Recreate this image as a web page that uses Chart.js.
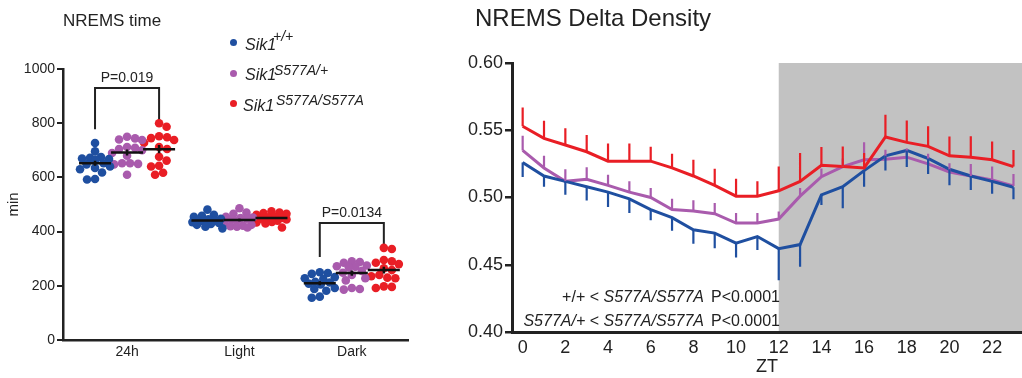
<!DOCTYPE html>
<html>
<head>
<meta charset="utf-8">
<title>NREMS time and delta density</title>
<script src="https://cdn.jsdelivr.net/npm/chart.js"></script>
<style>
  body { margin: 0; background: #fff; }
  #page { position: relative; width: 1022px; height: 378px; overflow: hidden;
          font-family: 'Liberation Sans', Arial, sans-serif; color: #222; }
  .box { position: absolute; top: 0; height: 378px; }
  .txt { position: absolute; white-space: nowrap; line-height: 1; }
  .dot { position: absolute; width: 7px; height: 7px; border-radius: 50%; }
</style>
</head>
<body>
<div id="page">
  <div class="box" style="left:0;width:420px"><canvas id="timeChart"></canvas></div>
  <div class="box" style="left:420px;width:602px"><canvas id="deltaChart"></canvas></div>

  <div class="txt" style="left:63px;top:12px;font-size:17px">NREMS time</div>
  <div class="txt" style="left:475px;top:6px;font-size:24px">NREMS Delta Density</div>

  <!-- legend -->
  <div class="dot" style="left:229.5px;top:38.5px;background:#1f4fa0"></div>
  <div class="txt" style="left:245px;top:37px;font-size:16px;font-style:italic">Sik1</div>
  <div class="txt" style="left:273px;top:29px;font-size:14px;font-style:italic">+/+</div>
  <div class="dot" style="left:229.5px;top:69.5px;background:#a95bad"></div>
  <div class="txt" style="left:245px;top:67px;font-size:16px;font-style:italic">Sik1</div>
  <div class="txt" style="left:274px;top:63px;font-size:14px;font-style:italic">S577A/+</div>
  <div class="dot" style="left:229.5px;top:99.5px;background:#e91e25"></div>
  <div class="txt" style="left:243px;top:98px;font-size:16px;font-style:italic">Sik1</div>
  <div class="txt" style="left:276px;top:93px;font-size:14px;font-style:italic">S577A/S577A</div>

  <!-- statistics on the delta panel -->
  <div class="txt" style="right:318px;top:289px;font-size:16px">+/+ &lt; <i>S577A/S577A</i></div>
  <div class="txt" style="left:711px;top:289px;font-size:16px">P&lt;0.0001</div>
  <div class="txt" style="right:318px;top:313px;font-size:16px"><i>S577A/+</i> &lt; <i>S577A/S577A</i></div>
  <div class="txt" style="left:711px;top:313px;font-size:16px">P&lt;0.0001</div>
</div>

<script>
  // ---- NREMS time (min), one value per mouse ----
  const categories = ['24h', 'Light', 'Dark'];
  const wt24h   = [727, 696, 672, 668, 675, 670, 665, 652, 648, 640, 635, 630, 618, 594, 592];
  const het24h  = [750, 744, 740, 738, 712, 709, 705, 700, 690, 680, 652, 650, 648, 652, 610];
  const hom24h  = [800, 787, 748, 745, 752, 738, 728, 712, 705, 676, 662, 643, 640, 617, 610];
  const wtLight  = [481, 462, 458, 455, 447, 445, 443, 440, 438, 435, 432, 428, 425, 418, 412];
  const hetLight = [486, 470, 466, 455, 452, 450, 448, 445, 440, 432, 425, 422, 420, 418, 415];
  const homLight = [475, 470, 468, 466, 462, 455, 452, 450, 448, 445, 440, 436, 434, 430, 415];
  const wtDark  = [250, 247, 244, 232, 228, 225, 215, 212, 208, 205, 192, 188, 182, 160, 156];
  const hetDark = [290, 288, 285, 275, 272, 270, 268, 255, 248, 240, 228, 220, 192, 188, 186];
  const homDark = [340, 336, 295, 290, 285, 280, 265, 258, 240, 235, 230, 228, 198, 196, 192];
  const timeTicks = [0, 200, 400, 600, 800, 1000];
  // bracket: left foot, top, right foot (min)
  const bracket24h  = [778, 930, 808];
  const bracketDark = [306, 432, 351];
  const pLabels = ['P=0.019', 'P=0.0134'];

  // ---- NREMS delta density per hour ----
  const ztHours = [0, 1, 2, 3, 4, 5, 6, 7, 8, 9, 10, 11, 12, 13, 14, 15, 16, 17, 18, 19, 20, 21, 22, 23];
  const wtDelta  = [0.526, 0.516, 0.512, 0.508, 0.504, 0.499, 0.491, 0.485, 0.476, 0.4735, 0.466, 0.471,
                    0.462, 0.465, 0.502, 0.508, 0.520, 0.531, 0.535, 0.529, 0.521, 0.516, 0.512, 0.5076];
  const wtErr    = [0.0107, 0.008, 0.0099, 0.0103, 0.0111, 0.0105, 0.008, 0.0098, 0.0104, 0.0112, 0.0107, 0.010,
                    0.0235, 0.0164, 0.0075, 0.016, 0.012, 0.011, 0.0124, 0.0116, 0.0119, 0.0104, 0.0092, 0.0089];
  const hetDelta = [0.535, 0.522, 0.512, 0.5135, 0.509, 0.504, 0.500, 0.491, 0.490, 0.488, 0.481, 0.481,
                    0.484, 0.501, 0.5155, 0.523, 0.528, 0.5285, 0.530, 0.525, 0.519, 0.516, 0.513, 0.5085];
  const hetErr   = [0.011, 0.009, 0.009, 0.009, 0.008, 0.008, 0.007, 0.008, 0.008, 0.008, 0.0075, 0.0075,
                    0.0055, 0.006, 0.006, 0.006, 0.013, 0.007, 0.0065, 0.0075, 0.0065, 0.009, 0.010, 0.009];
  const homDelta = [0.553, 0.544, 0.539, 0.534, 0.527, 0.527, 0.527, 0.522, 0.516, 0.509, 0.501, 0.501,
                    0.505, 0.512, 0.524, 0.523, 0.522, 0.545, 0.541, 0.538, 0.531, 0.530, 0.528, 0.523];
  const homErr   = [0.014, 0.013, 0.0124, 0.0125, 0.0132, 0.0132, 0.0107, 0.0106, 0.012, 0.0124, 0.013, 0.011,
                    0.018, 0.021, 0.0136, 0.015, 0.011, 0.0165, 0.0163, 0.015, 0.0143, 0.0156, 0.0136, 0.0124];
  const ztTicks = [0, 2, 4, 6, 8, 10, 12, 14, 16, 18, 20, 22];
  const deltaTicks = [0.40, 0.45, 0.50, 0.55, 0.60];
  const darkStart = 12;

  const BLUE = '#1f4fa0', PURPLE = '#a95bad', RED = '#e91e25', INK = '#222';
  const FONT = "'Liberation Sans', Arial, sans-serif";
  Chart.defaults.font.family = FONT;
  Chart.defaults.color = INK;

  const genoColors = [BLUE, PURPLE, RED];
  const groupShift = [-0.285, 0, 0.285];
  const timeSets = [[wt24h, wtLight, wtDark], [het24h, hetLight, hetDark], [hom24h, homLight, homDark]];

  function centerPoints(g) {
    const pts = [];
    timeSets[g].forEach((vals, c) => vals.forEach(v => pts.push({ x: c + 1 + groupShift[g], y: v })));
    return pts;
  }

  function bracketPoints(vals, cat) {
    const a = cat + 1 + groupShift[0], b = cat + 1 + groupShift[2];
    return [{ x: a, y: vals[0] }, { x: a, y: vals[1] }, { x: b, y: vals[1] }, { x: b, y: vals[2] }];
  }

  // spread the dots sideways so they do not sit on each other (beeswarm)
  function swarm(chart) {
    const xs = chart.scales.x, ys = chart.scales.y;
    const d = 8, half = 15;
    const order = [0];
    for (let k = 0.5; k <= half; k += 0.5) order.push(k, -k);
    timeSets.forEach((sets, g) => {
      const pts = [];
      sets.forEach((vals, c) => {
        const cx = xs.getPixelForValue(c + 1 + groupShift[g]);
        const placed = [];
        vals.map(v => ({ v, py: ys.getPixelForValue(v) }))
          .sort((a, b) => a.py - b.py)
          .forEach(p => {
            let best = 0, bestGap = -1;
            for (const off of order) {
              let gap = Infinity;
              for (const q of placed) gap = Math.min(gap, Math.hypot(q.dx - off, q.py - p.py));
              if (gap >= d) { best = off; break; }
              if (gap > bestGap) { bestGap = gap; best = off; }
            }
            placed.push({ dx: best, py: p.py });
            pts.push({ x: xs.getValueForPixel(cx + best), y: p.v });
          });
      });
      chart.data.datasets[g].data = pts;
    });
    chart.update('none');
  }

  const meanSem = {
    id: 'meanSem',
    afterDatasetsDraw(chart) {
      const { ctx, scales: { x, y } } = chart;
      ctx.save();
      ctx.strokeStyle = '#111';
      ctx.lineWidth = 2.5;
      timeSets.forEach((sets, g) => sets.forEach((vals, c) => {
        const n = vals.length;
        const m = vals.reduce((a, b) => a + b, 0) / n;
        const sd = Math.sqrt(vals.reduce((a, b) => a + (b - m) * (b - m), 0) / (n - 1));
        const se = sd / Math.sqrt(n);
        const px = x.getPixelForValue(c + 1 + groupShift[g]);
        const py = y.getPixelForValue(m);
        ctx.beginPath();
        ctx.moveTo(px - 16, py); ctx.lineTo(px + 16, py);
        ctx.moveTo(px, y.getPixelForValue(m - se)); ctx.lineTo(px, y.getPixelForValue(m + se));
        ctx.stroke();
      }));
      ctx.fillStyle = INK;
      ctx.font = '14px ' + FONT;
      ctx.textAlign = 'center';
      ctx.textBaseline = 'bottom';
      ctx.fillText(pLabels[0], x.getPixelForValue(1), y.getPixelForValue(bracket24h[1]) - 3);
      ctx.fillText(pLabels[1], x.getPixelForValue(3), y.getPixelForValue(bracketDark[1]) - 3);
      ctx.restore();
    }
  };

  const bracketStyle = { showLine: true, borderColor: INK, borderWidth: 2, pointRadius: 0, fill: false };

  const timeChart = new Chart(document.getElementById('timeChart'), {
    type: 'scatter',
    data: {
      datasets: [0, 1, 2].map(g => ({
        data: centerPoints(g),
        backgroundColor: genoColors[g],
        borderWidth: 0,
        pointRadius: 4.3
      })).concat([
        Object.assign({ data: bracketPoints(bracket24h, 0) }, bracketStyle),
        Object.assign({ data: bracketPoints(bracketDark, 2) }, bracketStyle)
      ])
    },
    options: {
      responsive: true,
      maintainAspectRatio: false,
      animation: false,
      layout: { padding: { top: 69, right: 12, left: 0, bottom: 0 } },
      plugins: { legend: { display: false }, tooltip: { enabled: false } },
      scales: {
        x: {
          type: 'linear', min: 0.43, max: 3.5,
          afterBuildTicks: s => { s.ticks = categories.map((c, i) => ({ value: i + 1 })); },
          afterFit: s => { s.height = 38; },
          grid: { display: false, drawTicks: false },
          border: { color: INK, width: 2.5 },
          ticks: { callback: (v, i) => categories[i], font: { size: 14 }, padding: 4 }
        },
        y: {
          min: 0, max: 1000,
          afterBuildTicks: s => { s.ticks = timeTicks.map(v => ({ value: v })); },
          afterFit: s => { s.width = 63; },
          grid: { drawOnChartArea: false, tickLength: 6, color: INK, lineWidth: 2 },
          border: { color: INK, width: 2.5 },
          ticks: { font: { size: 14 }, padding: 2, callback: v => String(v) },
          title: { display: true, text: 'min', font: { size: 15 }, padding: { top: 5 } }
        }
      }
    },
    plugins: [meanSem]
  });
  swarm(timeChart);

  // ---- right panel ----
  const darkPhase = {
    id: 'darkPhase',
    beforeDraw(chart) {
      const { ctx, chartArea: a, scales: { x } } = chart;
      const x0 = x.getPixelForValue(darkStart);
      ctx.save();
      ctx.fillStyle = '#c2c2c2';
      ctx.fillRect(x0, a.top, a.right - x0, a.bottom - a.top);
      ctx.restore();
    }
  };

  const errorBars = {
    id: 'errorBars',
    afterDatasetsDraw(chart) {
      const { ctx, scales: { x, y } } = chart;
      ctx.save();
      ctx.lineWidth = 2.2;
      chart.data.datasets.slice().reverse().forEach(ds => {
        ctx.strokeStyle = ds.borderColor;
        ctx.beginPath();
        ds.data.forEach((p, i) => {
          const px = x.getPixelForValue(p.x);
          ctx.moveTo(px, y.getPixelForValue(p.y));
          ctx.lineTo(px, y.getPixelForValue(p.y + ds.dir * ds.err[i]));
        });
        ctx.stroke();
      });
      ctx.restore();
    }
  };

  function series(vals, err, dir, color) {
    return {
      data: ztHours.map((h, i) => ({ x: h, y: vals[i] })),
      err: err, dir: dir,
      borderColor: color,
      borderWidth: 3,
      pointRadius: 0,
      tension: 0,
      fill: false
    };
  }

  new Chart(document.getElementById('deltaChart'), {
    type: 'line',
    data: {
      datasets: [
        series(homDelta, homErr, 1, RED),
        series(wtDelta, wtErr, -1, BLUE),
        series(hetDelta, hetErr, 1, PURPLE)
      ]
    },
    options: {
      responsive: true,
      maintainAspectRatio: false,
      animation: false,
      layout: { padding: { top: 63, right: 0, left: 0, bottom: 0 } },
      plugins: { legend: { display: false }, tooltip: { enabled: false } },
      scales: {
        x: {
          type: 'linear', min: -0.5, max: 23.4,
          afterBuildTicks: s => { s.ticks = ztTicks.map(v => ({ value: v })); },
          afterFit: s => { s.height = 46; },
          grid: { display: false, drawTicks: false },
          border: { color: INK, width: 3 },
          ticks: { font: { size: 18 }, padding: 5 },
          title: { display: true, text: 'ZT', font: { size: 18 }, padding: { top: 0, bottom: 0 } }
        },
        y: {
          min: 0.4, max: 0.6,
          afterBuildTicks: s => { s.ticks = deltaTicks.map(v => ({ value: v })); },
          afterFit: s => { s.width = 92; },
          grid: { drawOnChartArea: false, tickLength: 7, color: INK, lineWidth: 2.5 },
          border: { color: INK, width: 3 },
          ticks: { font: { size: 18 }, padding: 2, callback: v => v.toFixed(2) }
        }
      }
    },
    plugins: [darkPhase, errorBars]
  });
</script>
</body>
</html>
